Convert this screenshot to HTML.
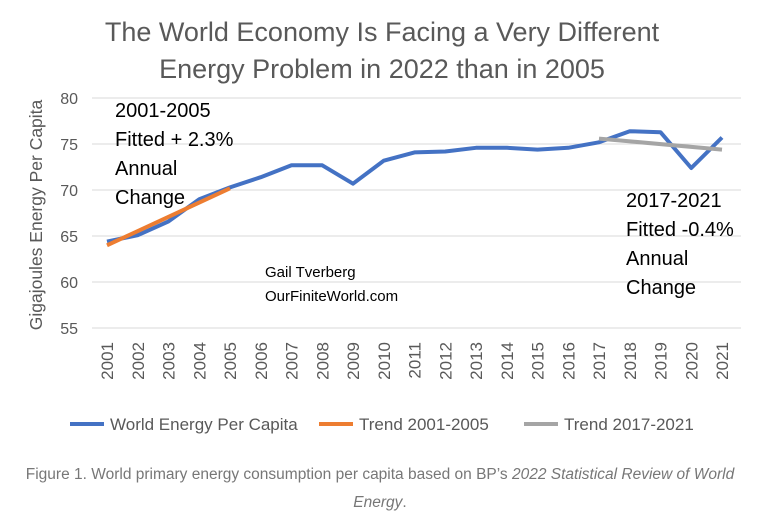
<!DOCTYPE html>
<html><head><meta charset="utf-8"><style>
body{margin:0;background:#fff;width:759px;height:519px;overflow:hidden}
svg{display:block}
text{font-family:"Liberation Sans",sans-serif}
</style></head><body>
<svg width="759" height="519" viewBox="0 0 759 519" xmlns="http://www.w3.org/2000/svg">
<g font-size="27" fill="#595959" text-anchor="middle">
<text x="382" y="41">The World Economy Is Facing a Very Different</text>
<text x="382" y="78">Energy Problem in 2022 than in 2005</text>
</g>
<g stroke="#d9d9d9" stroke-width="1">
<line x1="92" y1="98" x2="741" y2="98"/><line x1="92" y1="144" x2="741" y2="144"/>
<line x1="92" y1="190" x2="741" y2="190"/><line x1="92" y1="236" x2="741" y2="236"/>
<line x1="92" y1="282" x2="741" y2="282"/><line x1="92" y1="328" x2="741" y2="328"/>
</g>
<g font-size="16" fill="#595959" text-anchor="end">
<text x="78" y="104">80</text><text x="78" y="150">75</text><text x="78" y="196">70</text>
<text x="78" y="242">65</text><text x="78" y="288">60</text><text x="78" y="334">55</text>
</g>
<text transform="translate(42,215) rotate(-90)" font-size="17.5" fill="#595959" text-anchor="middle">Gigajoules Energy Per Capita</text>
<polyline fill="none" stroke="#4472c4" stroke-width="4" stroke-linejoin="round" points="107,241.6 137.75,235.2 168.5,221.4 199.25,199.3 230,187.4 260.75,177.2 291.5,165.3 322.25,165.3 353,183.7 383.75,160.7 414.5,152.4 445.25,151.5 476,147.8 506.75,147.8 537.5,149.6 568.25,147.8 599,142.3 629.75,131.2 660.5,132.2 691.25,168.0 722,137.5"/>
<line x1="107" y1="245.3" x2="230" y2="188.3" stroke="#ed7d31" stroke-width="4"/>
<line x1="599" y1="138.6" x2="722" y2="149.6" stroke="#a5a5a5" stroke-width="4"/>
<g font-size="20" fill="#000">
<text x="115" y="117">2001-2005</text><text x="115" y="146">Fitted + 2.3%</text>
<text x="115" y="175">Annual</text><text x="115" y="204">Change</text>
<text x="626" y="207">2017-2021</text><text x="626" y="236">Fitted -0.4%</text>
<text x="626" y="265">Annual</text><text x="626" y="294">Change</text>
</g>
<g font-size="15" fill="#000">
<text x="265" y="277">Gail Tverberg</text><text x="265" y="301">OurFiniteWorld.com</text>
</g>
<g font-size="17" fill="#595959">
<line x1="70" y1="424" x2="104" y2="424" stroke="#4472c4" stroke-width="4"/>
<text x="110" y="430">World Energy Per Capita</text>
<line x1="319" y1="424" x2="353" y2="424" stroke="#ed7d31" stroke-width="4"/>
<text x="359" y="430">Trend 2001-2005</text>
<line x1="524" y1="424" x2="558" y2="424" stroke="#a5a5a5" stroke-width="4"/>
<text x="564" y="430">Trend  2017-2021</text>
</g>
<g font-size="15.5" fill="#777" text-anchor="middle">
<text x="380" y="479">Figure 1. World primary energy consumption per capita based on BP’s <tspan font-style="italic">2022 Statistical Review of World</tspan></text>
<text x="380" y="507"><tspan font-style="italic">Energy</tspan>.</text>
</g>
<g font-size="17" fill="#595959" text-anchor="end">
<text transform="translate(113,342) rotate(-90)">2001</text>
<text transform="translate(143.75,342) rotate(-90)">2002</text>
<text transform="translate(174.5,342) rotate(-90)">2003</text>
<text transform="translate(205.25,342) rotate(-90)">2004</text>
<text transform="translate(236,342) rotate(-90)">2005</text>
<text transform="translate(266.75,342) rotate(-90)">2006</text>
<text transform="translate(297.5,342) rotate(-90)">2007</text>
<text transform="translate(328.25,342) rotate(-90)">2008</text>
<text transform="translate(359,342) rotate(-90)">2009</text>
<text transform="translate(389.75,342) rotate(-90)">2010</text>
<text transform="translate(420.5,342) rotate(-90)">2011</text>
<text transform="translate(451.25,342) rotate(-90)">2012</text>
<text transform="translate(482,342) rotate(-90)">2013</text>
<text transform="translate(512.75,342) rotate(-90)">2014</text>
<text transform="translate(543.5,342) rotate(-90)">2015</text>
<text transform="translate(574.25,342) rotate(-90)">2016</text>
<text transform="translate(605,342) rotate(-90)">2017</text>
<text transform="translate(635.75,342) rotate(-90)">2018</text>
<text transform="translate(666.5,342) rotate(-90)">2019</text>
<text transform="translate(697.25,342) rotate(-90)">2020</text>
<text transform="translate(728,342) rotate(-90)">2021</text>
</g>
</svg>
</body></html>
